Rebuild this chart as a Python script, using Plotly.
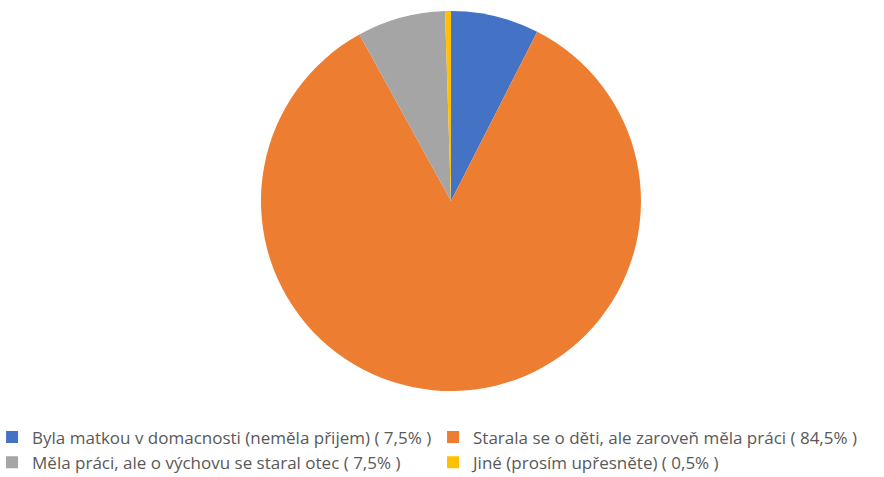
import plotly.graph_objects as go

# podil odpovedi
labels = [
    'Byla matkou v domacnosti (neměla přijem) ( 7,5% )',
    'Starala se o děti, ale zaroveň měla práci ( 84,5% )',
    'Měla práci, ale o výchovu se staral otec ( 7,5% )',
    'Jiné (prosím upřesněte) ( 0,5% )',
]
values = [7.5, 84.5, 7.5, 0.5]
colors = ['#4472C4', '#ED7D31', '#A5A5A5', '#FFC000']

fig = go.Figure()
fig.add_trace(go.Pie(
    labels=labels,
    values=values,
    marker=dict(colors=colors, line=dict(width=0)),
    sort=False,
    direction='clockwise',
    rotation=0,
    textinfo='none',
    domain=dict(x=[0.2952, 0.7251], y=[0, 1]),
))

fig.update_layout(
    width=884, height=477,
    margin=dict(l=0, r=0, t=11, b=86, autoexpand=False),
    paper_bgcolor='white',
    showlegend=True,
    legend=dict(
        orientation='h',
        x=-0.009, y=-0.075,
        xanchor='left', yanchor='top',
        entrywidth=396, entrywidthmode='pixels',
        bgcolor='rgba(0,0,0,0)',
        font=dict(family='Open Sans', size=17, color='#595959'),
    ),
)

# bez okraje stranky, aby graf sedel na 0,0
fig.write_html("out.html", config={'displayModeBar': False},
               post_script="document.body.style.margin='0';")
